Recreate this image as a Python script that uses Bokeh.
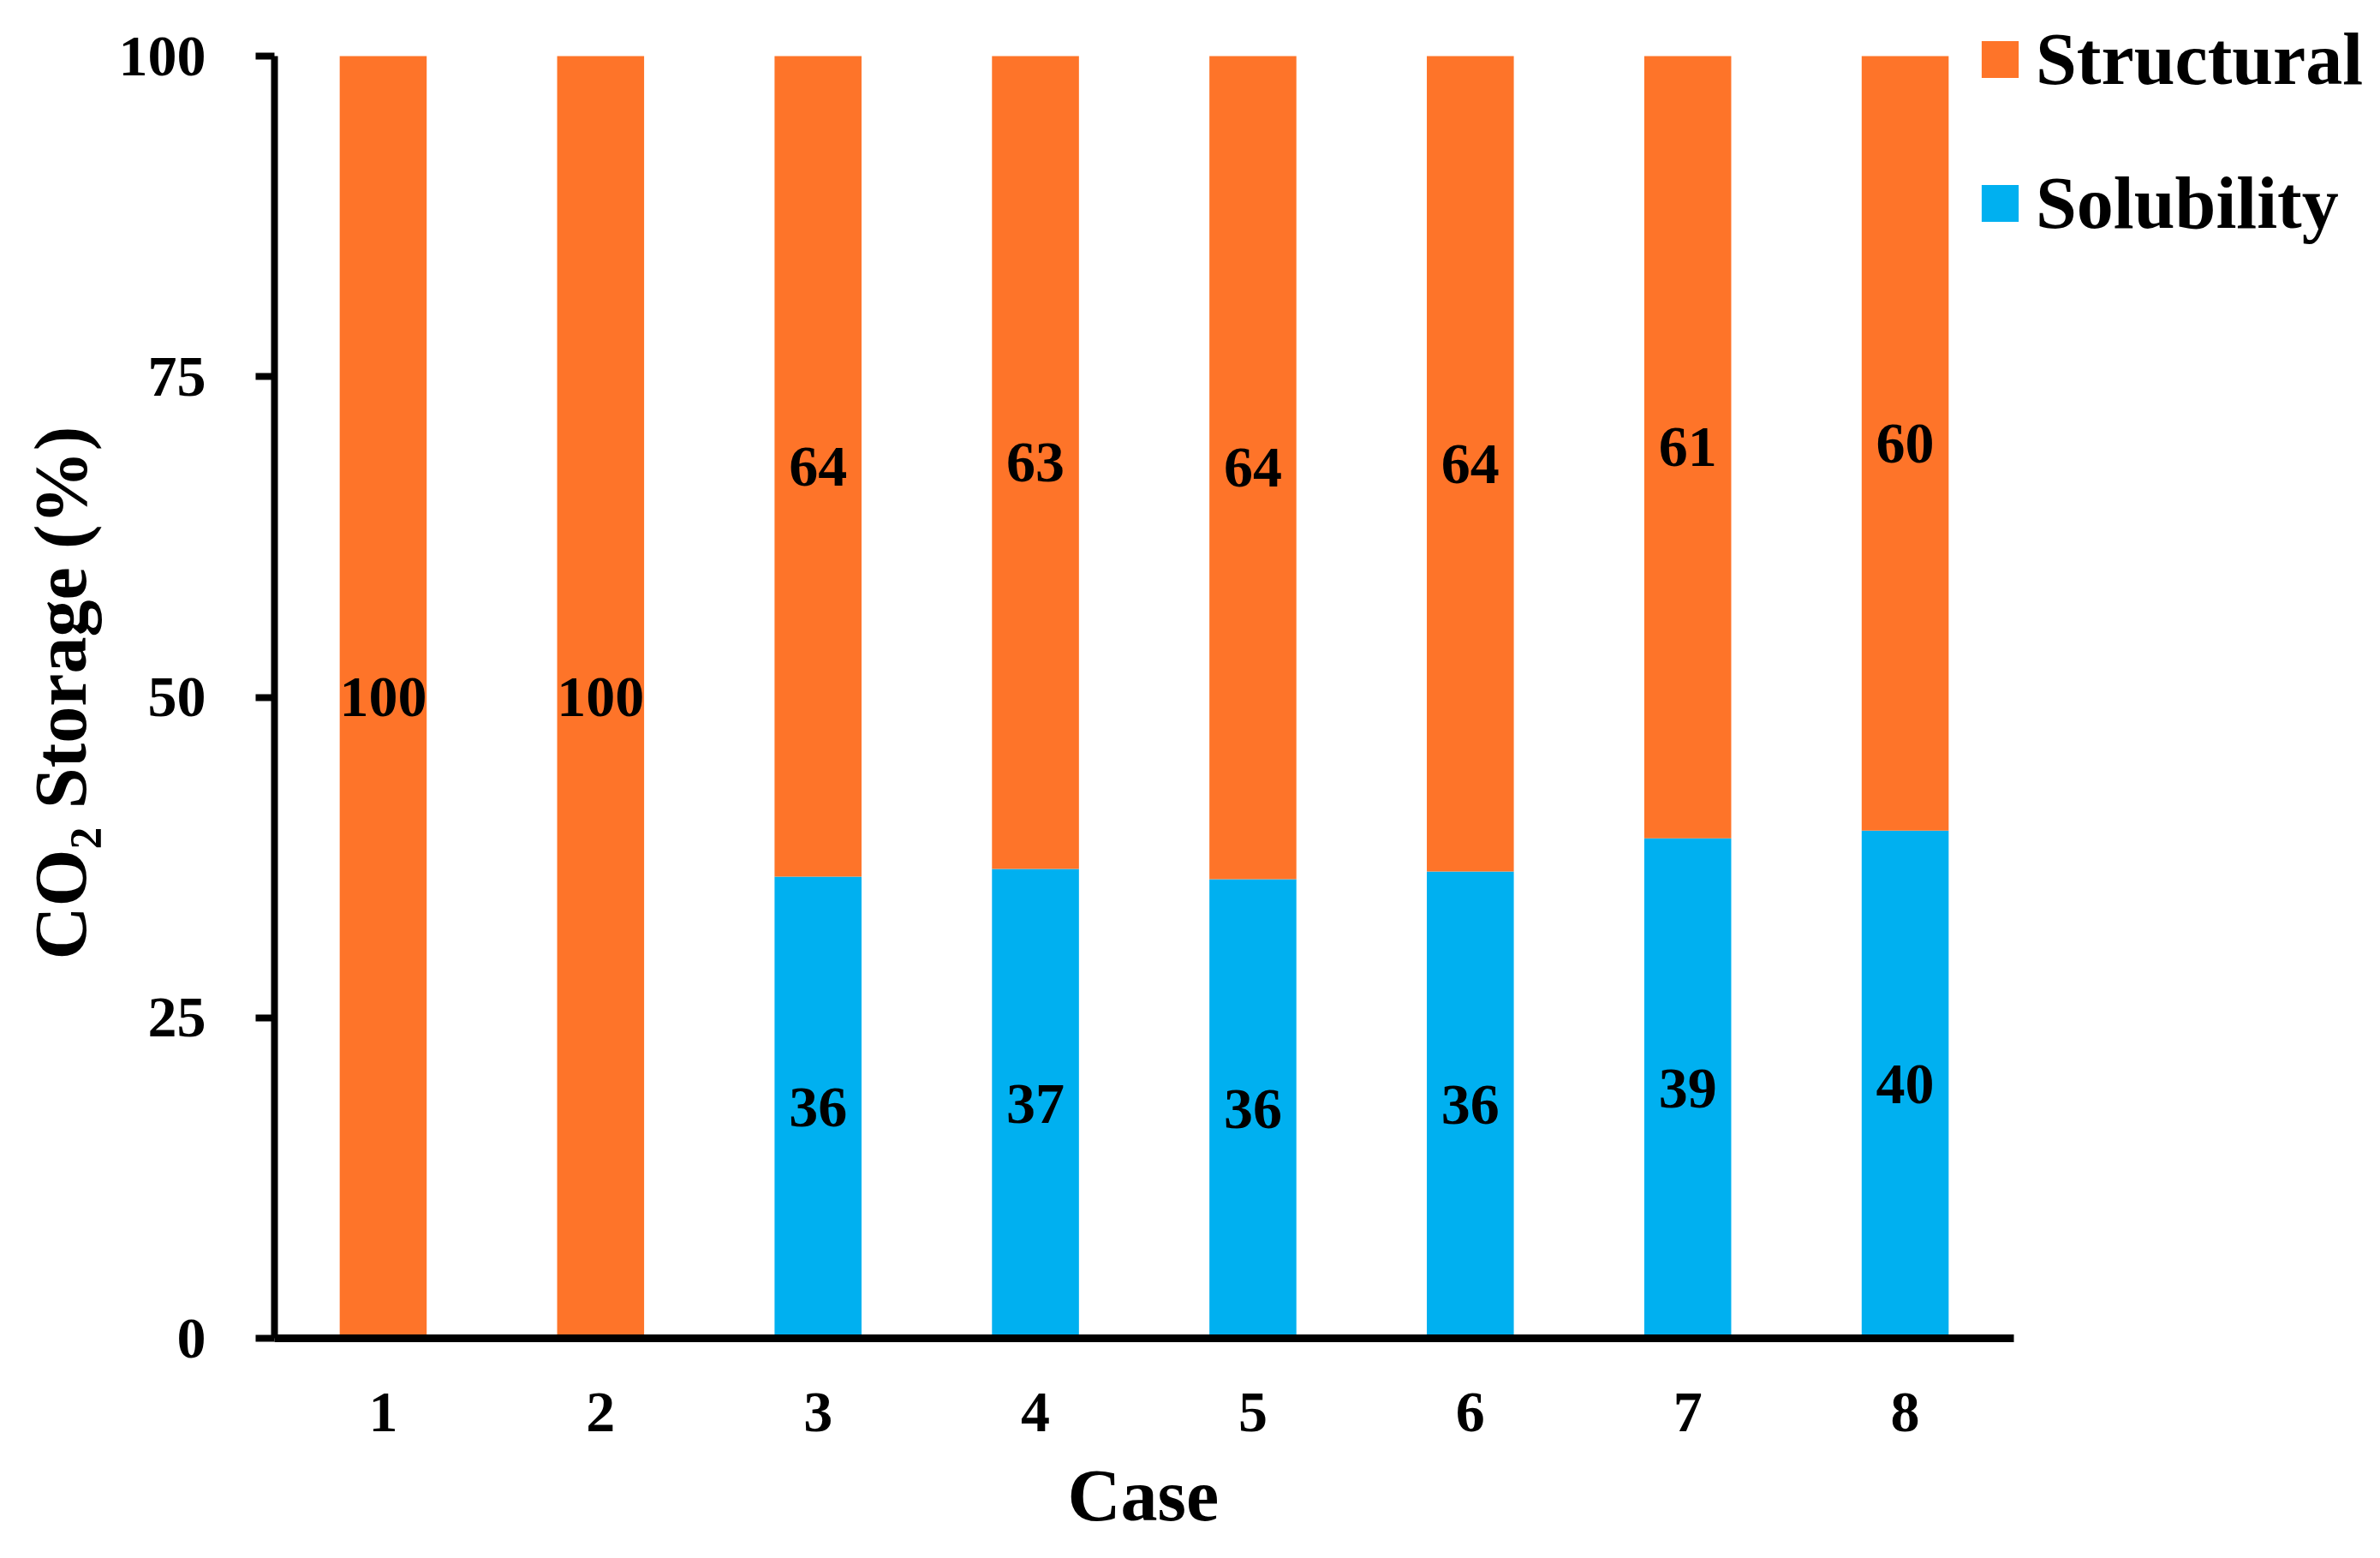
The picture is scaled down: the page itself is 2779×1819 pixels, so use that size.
from bokeh.plotting import figure
from bokeh.models import ColumnDataSource, FixedTicker, Legend, LegendItem, Range1d, Title
from bokeh.core.properties import value
from bokeh.embed import file_html
from bokeh.resources import INLINE

# ---- data ----
cases = [1, 2, 3, 4, 5, 6, 7, 8]
solubility = [0.0, 0.0, 36.0, 36.6, 35.8, 36.4, 39.0, 39.6]
structural = [100.0, 100.0, 64.0, 63.4, 64.2, 63.6, 61.0, 60.4]
solubility_labels = ["", "", "36", "37", "36", "36", "39", "40"]
structural_labels = ["100", "100", "64", "63", "64", "64", "61", "60"]
y_ticks = [0, 25, 50, 75, 100]
series_names = ["Structural", "Solubility"]
x_title = "Case"
y_title = "CO\u2082 Storage (%)"

ORANGE = "#FE7429"
BLUE = "#00B0F0"
FONT = "Liberation Serif"

# ---- layout geometry (pixels) ----
W, H = 2760, 1819
FRAME_LEFT, FRAME_BOTTOM = 320, 1562          # canvas px of the (0.5, 0) corner
AXIS_RIGHT_PX, AXIS_TOP_PX = 2351, 65         # canvas px of x=8.5 and y=100
px_x = (AXIS_RIGHT_PX - FRAME_LEFT) / 8.0
px_y = (FRAME_BOTTOM - AXIS_TOP_PX) / 100.0
x_end = 0.5 + (W - FRAME_LEFT) / px_x
y_end = FRAME_BOTTOM / px_y

src = ColumnDataSource(dict(
    x=cases,
    sol=solubility,
    stru=structural,
    top=[a + b for a, b in zip(solubility, structural)],
    sol_mid=[a / 2 for a in solubility],
    stru_mid=[a + b / 2 for a, b in zip(solubility, structural)],
    sol_lab=solubility_labels,
    stru_lab=structural_labels,
))

p = figure(width=W, height=H, x_range=Range1d(0.5, x_end), y_range=Range1d(0, y_end),
           output_backend="svg", toolbar_location=None, title_location=None,
           min_border_left=FRAME_LEFT, min_border_right=0,
           min_border_top=0, min_border_bottom=H - FRAME_BOTTOM)
p.outline_line_color = None
p.xgrid.visible = False
p.ygrid.visible = False
p.background_fill_color = "white"

r_sol = p.vbar(x="x", bottom=0, top="sol", width=0.4, source=src, fill_color=BLUE, line_color=None)
r_str = p.vbar(x="x", bottom="sol", top="top", width=0.4, source=src, fill_color=ORANGE, line_color=None)

text_kw = dict(text_font=value(FONT), text_font_style="bold", text_font_size="68px",
               text_align="center", text_baseline="middle", text_color="black")
p.text(x="x", y="sol_mid", text="sol_lab", source=src, **text_kw)
p.text(x="x", y="stru_mid", text="stru_lab", source=src, **text_kw)

# axes
ya = p.yaxis[0]
ya.ticker = FixedTicker(ticks=y_ticks)
ya.bounds = (0, 100)
ya.axis_line_width = 8
ya.axis_line_color = "black"
ya.major_tick_line_width = 8
ya.major_tick_line_color = "black"
ya.major_tick_out = 22
ya.major_tick_in = 0
ya.minor_tick_line_color = None
ya.major_label_standoff = 58
ya.major_label_text_font = FONT
ya.major_label_text_font_style = "bold"
ya.major_label_text_font_size = "68px"
ya.major_label_text_color = "black"

xa = p.xaxis[0]
xa.ticker = FixedTicker(ticks=cases)
xa.bounds = (0.5, 8.5)
xa.axis_line_width = 9
xa.axis_line_color = "black"
xa.major_tick_line_color = None
xa.minor_tick_line_color = None
xa.major_label_standoff = 58
xa.major_label_text_font = FONT
xa.major_label_text_font_style = "bold"
xa.major_label_text_font_size = "68px"
xa.major_label_text_color = "black"

# axis titles (as side-panel titles so they can be centred on the axis extent)
xt = Title(text=x_title, align="left", offset=926, standoff=44,
           text_font=FONT, text_font_style="bold", text_font_size="86px", text_color="black")
p.add_layout(xt, "below")
yt = Title(text=y_title, align="left", offset=442, standoff=33,
           text_font=FONT, text_font_style="bold", text_font_size="86px", text_color="black")
p.add_layout(yt, "left")

legend = Legend(items=[LegendItem(label=series_names[0], renderers=[r_str]),
                       LegendItem(label=series_names[1], renderers=[r_sol])],
                location=(1988, 1275), orientation="vertical",
                glyph_width=54, glyph_height=54, label_standoff=15, spacing=68,
                padding=0, margin=0, border_line_color=None, background_fill_alpha=0,
                label_text_font=FONT, label_text_font_style="bold",
                label_text_font_size="86px", label_text_color="black")
p.add_layout(legend, "center")

open("out.html", "w").write(file_html(p, INLINE))
